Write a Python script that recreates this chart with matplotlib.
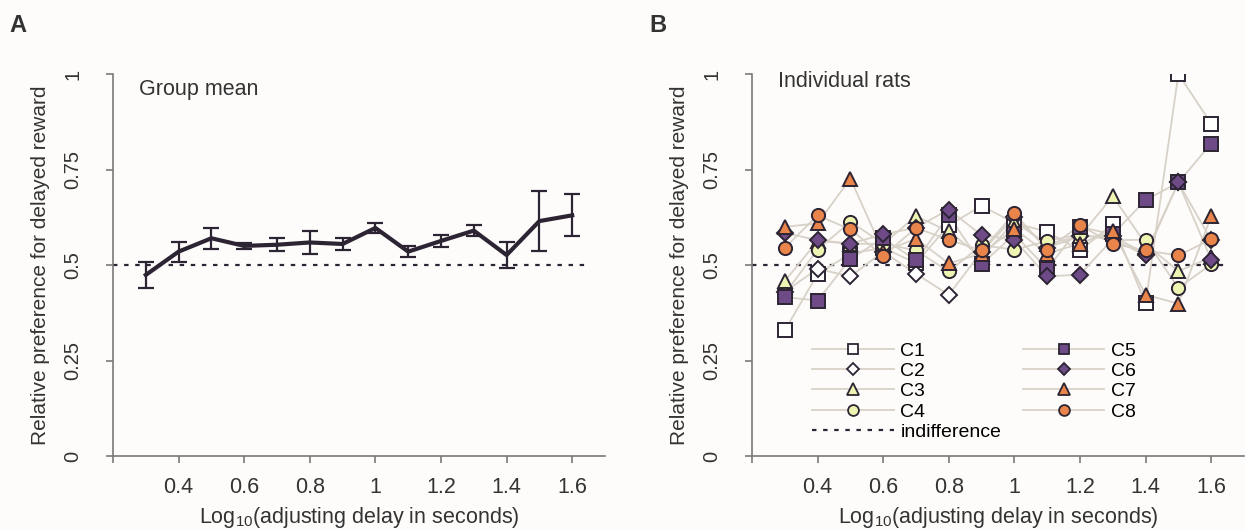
import matplotlib.pyplot as plt
from matplotlib.lines import Line2D

plt.rcParams['font.family'] = ['Liberation Sans', 'DejaVu Sans']
plt.rcParams['mathtext.default'] = 'regular'

# log10 adjusting delay
delay = [0.3, 0.4, 0.5, 0.6, 0.7, 0.8, 0.9, 1.0, 1.1, 1.2, 1.3, 1.4, 1.5, 1.6]

# panel A, group mean and SEM
group_mean = [0.474, 0.535, 0.570, 0.550, 0.553, 0.559, 0.555, 0.597, 0.535, 0.563, 0.590, 0.526, 0.615, 0.630]
group_sem = [0.035, 0.026, 0.028, 0.007, 0.017, 0.029, 0.015, 0.012, 0.014, 0.016, 0.015, 0.034, 0.078, 0.055]

# panel B, individual rats
rats = ['C1', 'C2', 'C3', 'C4', 'C5', 'C6', 'C7', 'C8']
C1 = [0.329, 0.476, 0.530, 0.545, 0.505, 0.604, 0.655, 0.610, 0.587, 0.538, 0.607, 0.400, 1.000, 0.870]
C2 = [0.430, 0.490, 0.470, 0.535, 0.477, 0.422, 0.535, 0.625, 0.545, 0.575, 0.575, 0.530, 0.716, 0.565]
C3 = [0.458, 0.563, 0.556, 0.555, 0.628, 0.588, 0.520, 0.613, 0.555, 0.575, 0.680, 0.555, 0.484, 0.520]
C4 = [0.425, 0.540, 0.613, 0.556, 0.538, 0.483, 0.552, 0.540, 0.563, 0.580, 0.565, 0.566, 0.440, 0.502]
C5 = [0.416, 0.407, 0.516, 0.570, 0.512, 0.630, 0.502, 0.580, 0.490, 0.600, 0.580, 0.670, 0.716, 0.818]
C6 = [0.584, 0.565, 0.556, 0.580, 0.598, 0.645, 0.578, 0.566, 0.470, 0.475, 0.568, 0.525, 0.716, 0.514]
C7 = [0.600, 0.609, 0.726, 0.535, 0.569, 0.504, 0.530, 0.595, 0.530, 0.556, 0.589, 0.422, 0.399, 0.628]
C8 = [0.545, 0.630, 0.593, 0.524, 0.597, 0.566, 0.538, 0.635, 0.540, 0.604, 0.556, 0.538, 0.525, 0.567]
rat_values = [C1, C2, C3, C4, C5, C6, C7, C8]

xticks = [0.2, 0.4, 0.6, 0.8, 1.0, 1.2, 1.4, 1.6]
xticklabels = ['', '0.4', '0.6', '0.8', '1', '1.2', '1.4', '1.6']
yticks = [0, 0.25, 0.5, 0.75, 1]
yticklabels = ['0', '0.25', '0.5', '0.75', '1']

dark = '#2d2433'
text_col = '#333333'
grey_line = '#d8d1c8'
purple = '#6e4a86'
orange = '#e9844a'
yellow = '#eef4b2'
white = '#ffffff'

markers = ['s', 'D', '^', 'o', 's', 'D', '^', 'o']
fills = [white, white, yellow, yellow, purple, purple, orange, orange]
sizes = [9.5, 8, 10, 9.5, 9.5, 8, 10, 9.5]

fig = plt.figure(figsize=(12.45, 5.3), dpi=100, facecolor='#fdfcfb')

axA = fig.add_axes([113/1245, 74/530, 492/1245, 382/530])
axB = fig.add_axes([752/1245, 74/530, 492/1245, 382/530])


def style_axes(ax):
    ax.set_facecolor('none')
    ax.set_xlim(0.2, 1.7)
    ax.set_ylim(0, 1)
    for s in ['top', 'right']:
        ax.spines[s].set_visible(False)
    for s in ['left', 'bottom']:
        ax.spines[s].set_color('#7a7a7a')
        ax.spines[s].set_linewidth(1.2)
    ax.set_xticks(xticks)
    ax.set_xticklabels(xticklabels, fontsize=15.5, color=text_col)
    ax.set_yticks(yticks)
    ax.set_yticklabels(yticklabels, fontsize=14.5, color=text_col, rotation=90, va='center')
    ax.tick_params(axis='x', length=5, width=1.2, color='#7a7a7a', pad=10)
    ax.tick_params(axis='y', length=5, width=1.2, color='#7a7a7a', pad=17)
    ax.set_xlabel('Log$_{10}$(adjusting delay in seconds)', fontsize=15.5, color=text_col, labelpad=5)
    ax.set_ylabel('Relative preference for delayed reward', fontsize=15, color=text_col, labelpad=10)
    ax.axhline(0.5, xmin=0, xmax=0.97, color=dark, lw=1.6, dashes=(2, 3), zorder=1)


style_axes(axA)
style_axes(axB)

# panel A
axA.errorbar(delay, group_mean, yerr=group_sem, color=dark, lw=3, elinewidth=1.6,
             capsize=6, capthick=1.6, zorder=3)
axA.text(0.053, 0.96, 'Group mean', transform=axA.transAxes, fontsize=15.5,
         color=text_col, va='center')

# panel B: grey connecting lines behind all markers
for vals in rat_values:
    axB.plot(delay, vals, color=grey_line, lw=1.3, zorder=2)
handles = []
for name, vals, m, fc, ms in zip(rats, rat_values, markers, fills, sizes):
    axB.plot(delay, vals, ls='none', marker=m, ms=ms, mfc=fc, mec=dark, mew=1.4, zorder=3)
    handles.append(Line2D([], [], color=grey_line, lw=1.3, marker=m, ms=ms * 0.82,
                          mfc=fc, mec=dark, mew=1.3, label=name))
indiff = Line2D([], [], color=dark, lw=1.6, dashes=(2, 3), label='indifference')
leg_handles = handles[:4] + [indiff] + handles[4:]
axB.legend(handles=leg_handles, ncol=2, frameon=False, fontsize=14,
           loc='upper left', bbox_to_anchor=(812/1245, 1 - 342/530),
           bbox_transform=fig.transFigure, borderpad=0, borderaxespad=0,
           handlelength=4.2, handletextpad=0.35, columnspacing=1.1,
           labelspacing=0.14)
axB.text(0.053, 0.98, 'Individual rats', transform=axB.transAxes, fontsize=15.5,
         color=text_col, va='center')

fig.text(9/1245, 1 - 25/530, 'A', fontsize=17, weight='bold', color=text_col, va='center')
fig.text(649/1245, 1 - 25/530, 'B', fontsize=17, weight='bold', color=text_col, va='center')

fig.savefig('out.png', dpi=100, facecolor=fig.get_facecolor())
